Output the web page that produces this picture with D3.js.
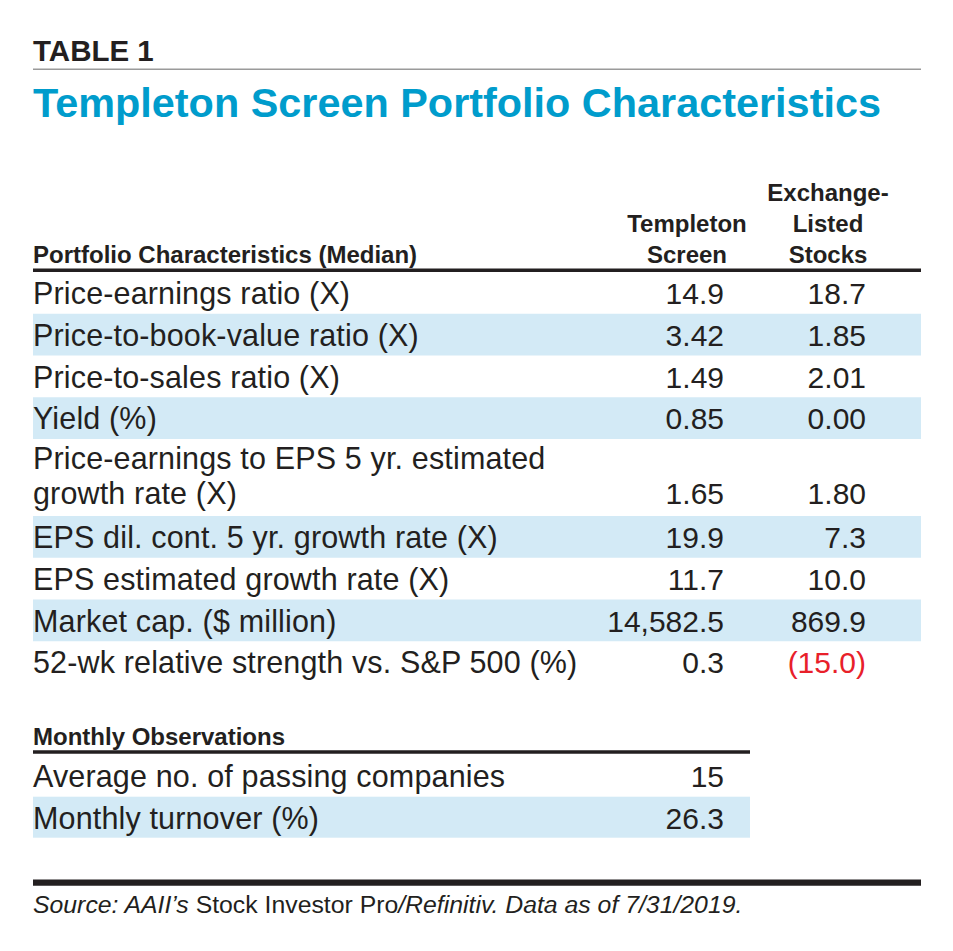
<!DOCTYPE html>
<html>
<head>
<meta charset="utf-8">
<script src="https://cdn.jsdelivr.net/npm/d3@7"></script>
<style>
  html, body { margin: 0; padding: 0; background: #fff; }
  svg { display: block; }
  text { font-family: "Liberation Sans", Arial, Helvetica, sans-serif; fill: #231f20; }
</style>
</head>
<body>
<svg id="chart" width="953" height="951"></svg>
<script>
// ---------- DATA ----------
const tableLabel = "TABLE 1";
const title = "Templeton Screen Portfolio Characteristics";
const sectionHeader = "Portfolio Characteristics (Median)";
const columnHeaders = [
  ["Templeton", "Screen"],
  ["Exchange-", "Listed", "Stocks"]
];
const characteristics = [
  ["Price-earnings ratio (X)"],
  ["Price-to-book-value ratio (X)"],
  ["Price-to-sales ratio (X)"],
  ["Yield (%)"],
  ["Price-earnings to EPS 5 yr. estimated", "growth rate (X)"],
  ["EPS dil. cont. 5 yr. growth rate (X)"],
  ["EPS estimated growth rate (X)"],
  ["Market cap. ($ million)"],
  ["52-wk relative strength vs. S&P 500 (%)"]
];
const templetonValues = ["14.9", "3.42", "1.49", "0.85", "1.65", "19.9", "11.7", "14,582.5", "0.3"];
const exchangeValues  = ["18.7", "1.85", "2.01", "0.00", "1.80", "7.3", "10.0", "869.9", "(15.0)"];

const monthlyHeader = "Monthly Observations";
const monthlyLabels = ["Average no. of passing companies", "Monthly turnover (%)"];
const monthlyValues = ["15", "26.3"];

const sourceParts = [
  { t: "Source: AAII\u2019s ", italic: true },
  { t: "Stock Investor Pro", italic: false },
  { t: "/Refinitiv. Data as of 7/31/2019.", italic: true }
];

// ---------- LAYOUT ----------
const svg = d3.select("#chart");
const left = 33, right = 921;
const blue = "#009ccc", shade = "#d3eaf6", red = "#e8202a", ink = "#231f20";
const singleH = 41.75, extraLineH = 35.25;
const bodySize = 30.5, bodySpacing = 0.15;

// column right-edge positions
const colX = d3.scaleOrdinal().domain(["templeton", "exchange"]).range([724, 866]);
const colCenter = d3.scaleOrdinal().domain([0, 1]).range([687, 828]);

// Title block
svg.append("text").attr("x", left).attr("y", 61)
  .attr("font-size", 29.5).attr("font-weight", "bold").text(tableLabel);
svg.append("line").attr("x1", left).attr("x2", right).attr("y1", 69.2).attr("y2", 69.2)
  .attr("stroke", "#9a9a9a").attr("stroke-width", 1.6);
svg.append("text").attr("x", left).attr("y", 117)
  .attr("font-size", 41.4).attr("font-weight", "bold").style("fill", blue).text(title);

// Header
svg.append("text").attr("x", left).attr("y", 263)
  .attr("font-size", 24).attr("font-weight", "bold").text(sectionHeader);
columnHeaders.forEach((lines, ci) => {
  const n = lines.length;
  lines.forEach((ln, li) => {
    svg.append("text").attr("x", colCenter(ci)).attr("y", 263 - (n - 1 - li) * 31)
      .attr("text-anchor", "middle").attr("font-size", 24).attr("font-weight", "bold")
      .text(ln);
  });
});
svg.append("line").attr("x1", left).attr("x2", right).attr("y1", 270.3).attr("y2", 270.3)
  .attr("stroke", ink).attr("stroke-width", 3.6);

// Rows
const heights = characteristics.map(l => singleH + (l.length - 1) * extraLineH);
const tops = [];
heights.reduce((acc, h) => { tops.push(acc); return acc + h; }, 272);
const rowY = d3.scaleOrdinal().domain(d3.range(characteristics.length)).range(tops);

const rows = svg.append("g").selectAll("g").data(characteristics).join("g");
rows.each(function (lines, i) {
  const g = d3.select(this);
  const top = rowY(i), h = heights[i];
  if (i % 2 === 1) {
    g.append("rect").attr("x", left).attr("width", right - left)
      .attr("y", top).attr("height", h).attr("fill", shade);
  }
  const firstBase = lines.length > 1 ? top + 30 : top + 32;
  lines.forEach((ln, li) => {
    g.append("text").attr("x", left).attr("y", firstBase + li * extraLineH)
      .attr("font-size", bodySize).attr("letter-spacing", bodySpacing).text(ln);
  });
  const lastBase = firstBase + (lines.length - 1) * extraLineH;
  g.append("text").attr("x", colX("templeton")).attr("y", lastBase)
    .attr("text-anchor", "end").attr("font-size", 30).text(templetonValues[i]);
  const ev = exchangeValues[i];
  g.append("text").attr("x", colX("exchange")).attr("y", lastBase)
    .attr("text-anchor", "end").attr("font-size", 30)
    .style("fill", ev.startsWith("(") ? red : ink).text(ev);
});

// Monthly observations
const mLeft = left, mRight = 750;
svg.append("text").attr("x", left).attr("y", 745)
  .attr("font-size", 24).attr("font-weight", "bold").text(monthlyHeader);
svg.append("line").attr("x1", mLeft).attr("x2", mRight).attr("y1", 752).attr("y2", 752)
  .attr("stroke", ink).attr("stroke-width", 3.6);
const mTops = [754, 796.7];
const mY = d3.scaleOrdinal().domain(d3.range(monthlyLabels.length)).range(mTops);
monthlyLabels.forEach((lab, i) => {
  if (i % 2 === 1) {
    svg.append("rect").attr("x", mLeft).attr("width", mRight - mLeft)
      .attr("y", mY(i)).attr("height", 41).attr("fill", shade);
  }
  svg.append("text").attr("x", left).attr("y", mY(i) + 32.5)
    .attr("font-size", bodySize).attr("letter-spacing", bodySpacing).text(lab);
  svg.append("text").attr("x", colX("templeton")).attr("y", mY(i) + 32.5)
    .attr("text-anchor", "end").attr("font-size", 30).text(monthlyValues[i]);
});

// Footer
svg.append("line").attr("x1", left).attr("x2", right).attr("y1", 882.7).attr("y2", 882.7)
  .attr("stroke", ink).attr("stroke-width", 6.2);
const src = svg.append("text").attr("x", left).attr("y", 913)
  .attr("font-size", 24.8);
sourceParts.forEach(p => {
  src.append("tspan").attr("font-style", p.italic ? "italic" : "normal").text(p.t);
});
</script>
</body>
</html>
